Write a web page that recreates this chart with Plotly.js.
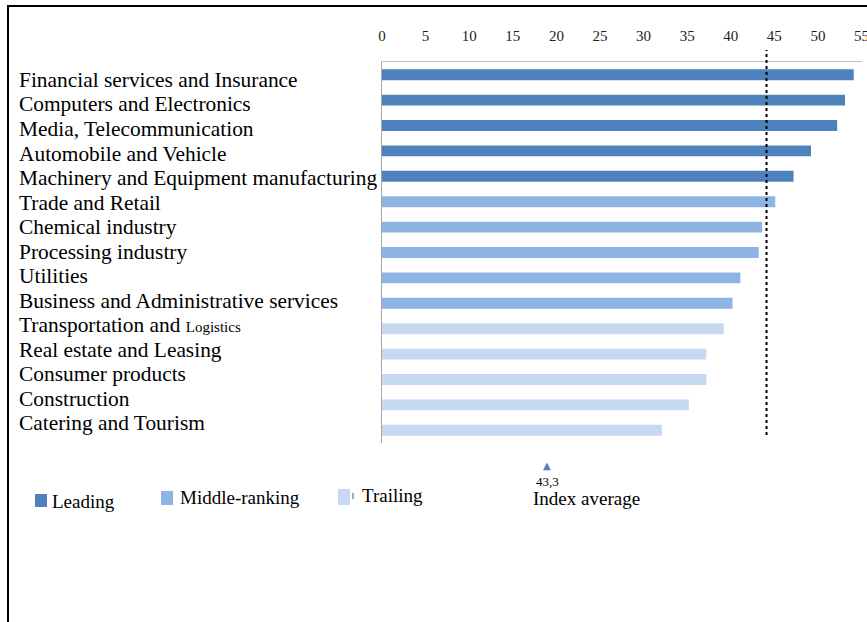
<!DOCTYPE html>
<html>
<head>
<meta charset="utf-8">
<script src="https://cdn.plot.ly/plotly-3.0.1.min.js"></script>
<style>
  html, body { margin: 0; padding: 0; background: #fff; }
  #chart { width: 867px; height: 622px; }
</style>
</head>
<body>
<div id="chart"></div>
<script>
// ---- data ----
const sectors = [
  "Financial services and Insurance",
  "Computers and Electronics",
  "Media, Telecommunication",
  "Automobile and Vehicle",
  "Machinery and Equipment manufacturing",
  "Trade and Retail",
  "Chemical industry",
  "Processing industry",
  "Utilities",
  "Business and Administrative services",
  "Transportation and Logistics",
  "Real estate and Leasing",
  "Consumer products",
  "Construction",
  "Catering and Tourism"
];
const sectorLabels = [
  "Financial services and Insurance",
  "Computers and Electronics",
  "Media, Telecommunication",
  "Automobile and Vehicle",
  "Machinery and Equipment manufacturing",
  "Trade and Retail",
  "Chemical industry",
  "Processing industry",
  "Utilities",
  "Business and Administrative services",
  "Transportation and <span style='font-size:15px'>Logistics</span>",
  "Real estate and Leasing",
  "Consumer products",
  "Construction",
  "Catering and Tourism"
];
const scores = [54.1, 53.1, 52.2, 49.2, 47.2, 45.1, 43.6, 43.2, 41.1, 40.2, 39.2, 37.2, 37.2, 35.2, 32.1];
const groups = [
  "Leading", "Leading", "Leading", "Leading", "Leading",
  "Middle-ranking", "Middle-ranking", "Middle-ranking", "Middle-ranking", "Middle-ranking",
  "Trailing", "Trailing", "Trailing", "Trailing", "Trailing"
];
const groupNames = ["Leading", "Middle-ranking", "Trailing"];
const tickValues = [0, 5, 10, 15, 20, 25, 30, 35, 40, 45, 50, 55];
const indexAverageLabel = "43,3";
const indexAverageName = "Index average";
const indexAverageLinePos = 44.1;

// ---- styles ----
const groupColors = { "Leading": "#4f81bd", "Middle-ranking": "#8eb4e3", "Trailing": "#c6d9f1" };
const FONT = "'Liberation Serif', 'Times New Roman', serif";

// layout geometry (pixels)
const W = 867, H = 622;
const M = { l: 382, r: 5, t: 62, b: 179 };
const PW = W - M.l - M.r, PH = H - M.t - M.b;
const px2x = px => (px - M.l) / PW;
const px2y = py => (H - M.b - py) / PH;

const trace = {
  type: "bar",
  orientation: "h",
  y: sectors,
  x: scores,
  marker: { color: groups.map(g => groupColors[g]) },
  showlegend: false,
  hoverinfo: "x+y",
  cliponaxis: false
};

const annotations = [];
const shapes = [];

// category labels, left aligned
sectorLabels.forEach((lab, i) => {
  annotations.push({
    xref: "paper", yref: "paper",
    x: px2x(17), y: px2y(80 + i * 24.5),
    xanchor: "left", yanchor: "middle",
    text: lab, showarrow: false,
    font: { family: FONT, size: 21.4, color: "#000" }
  });
});

// index average dashed line
shapes.push({
  type: "line", xref: "x", yref: "paper",
  x0: indexAverageLinePos, x1: indexAverageLinePos,
  y0: px2y(435), y1: px2y(50),
  line: { color: "#000", width: 2, dash: "3px,3px" }
});

// manual legend
const legendSq = [
  { x: 35, y: 494, w: 12, h: 13 },
  { x: 161, y: 491, w: 12, h: 14 },
  { x: 338, y: 489, w: 12, h: 16 }
];
const legendText = [
  { x: 50, y: 501 },
  { x: 178, y: 497 },
  { x: 360, y: 495 }
];
groupNames.forEach((g, i) => {
  const s = legendSq[i];
  shapes.push({
    type: "rect", xref: "paper", yref: "paper",
    x0: px2x(s.x), x1: px2x(s.x + s.w), y0: px2y(s.y + s.h), y1: px2y(s.y),
    fillcolor: groupColors[g], line: { width: 0 }
  });
  annotations.push({
    xref: "paper", yref: "paper",
    x: px2x(legendText[i].x), y: px2y(legendText[i].y),
    xanchor: "left", yanchor: "middle",
    text: g, showarrow: false,
    font: { family: FONT, size: 19, color: "#000" }
  });
});
// small tick mark next to trailing square
shapes.push({
  type: "line", xref: "paper", yref: "paper",
  x0: px2x(353), x1: px2x(353), y0: px2y(499), y1: px2y(493),
  line: { color: "#555", width: 1 }
});

// index average legend: triangle, value, name
annotations.push({
  xref: "paper", yref: "paper", x: px2x(547), y: px2y(465),
  xanchor: "center", yanchor: "middle", text: "▲", showarrow: false,
  font: { family: "DejaVu Sans", size: 10, color: "#4f81bd" }
});
annotations.push({
  xref: "paper", yref: "paper", x: px2x(547), y: px2y(481),
  xanchor: "center", yanchor: "middle", text: indexAverageLabel, showarrow: false,
  font: { family: FONT, size: 13, color: "#000" }
});
annotations.push({
  xref: "paper", yref: "paper", x: px2x(531), y: px2y(498),
  xanchor: "left", yanchor: "middle", text: indexAverageName, showarrow: false,
  font: { family: FONT, size: 19, color: "#000" }
});

// outer frame (left and top edges)
shapes.push({
  type: "line", xref: "paper", yref: "paper",
  x0: px2x(8), x1: px2x(8), y0: px2y(6), y1: px2y(640),
  line: { color: "#000", width: 2 }
});
shapes.push({
  type: "line", xref: "paper", yref: "paper",
  x0: px2x(7), x1: px2x(900), y0: px2y(6), y1: px2y(6),
  line: { color: "#000", width: 2 }
});

const layout = {
  width: W, height: H,
  margin: M,
  paper_bgcolor: "#fff", plot_bgcolor: "#fff",
  bargap: 0.57,
  xaxis: {
    side: "top",
    range: [0, 55.05],
    tickvals: tickValues,
    ticktext: tickValues.map(String),
    ticks: "",
    ticklabelstandoff: 14,
    ticklabeloverflow: "allow",
    showgrid: false, zeroline: false,
    showline: true, linecolor: "#bfbfbf", linewidth: 1.5,
    tickfont: { family: FONT, size: 15, color: "#222" },
    fixedrange: true
  },
  yaxis: {
    type: "category",
    categoryorder: "array",
    categoryarray: sectors,
    autorange: "reversed",
    showticklabels: false,
    ticks: "",
    showgrid: false, zeroline: false,
    showline: true, linecolor: "#a6a6a6", linewidth: 1.5,
    fixedrange: true
  },
  annotations: annotations,
  shapes: shapes,
  showlegend: false
};

Plotly.newPlot("chart", [trace], layout, { displayModeBar: false, staticPlot: true });
</script>
</body>
</html>
